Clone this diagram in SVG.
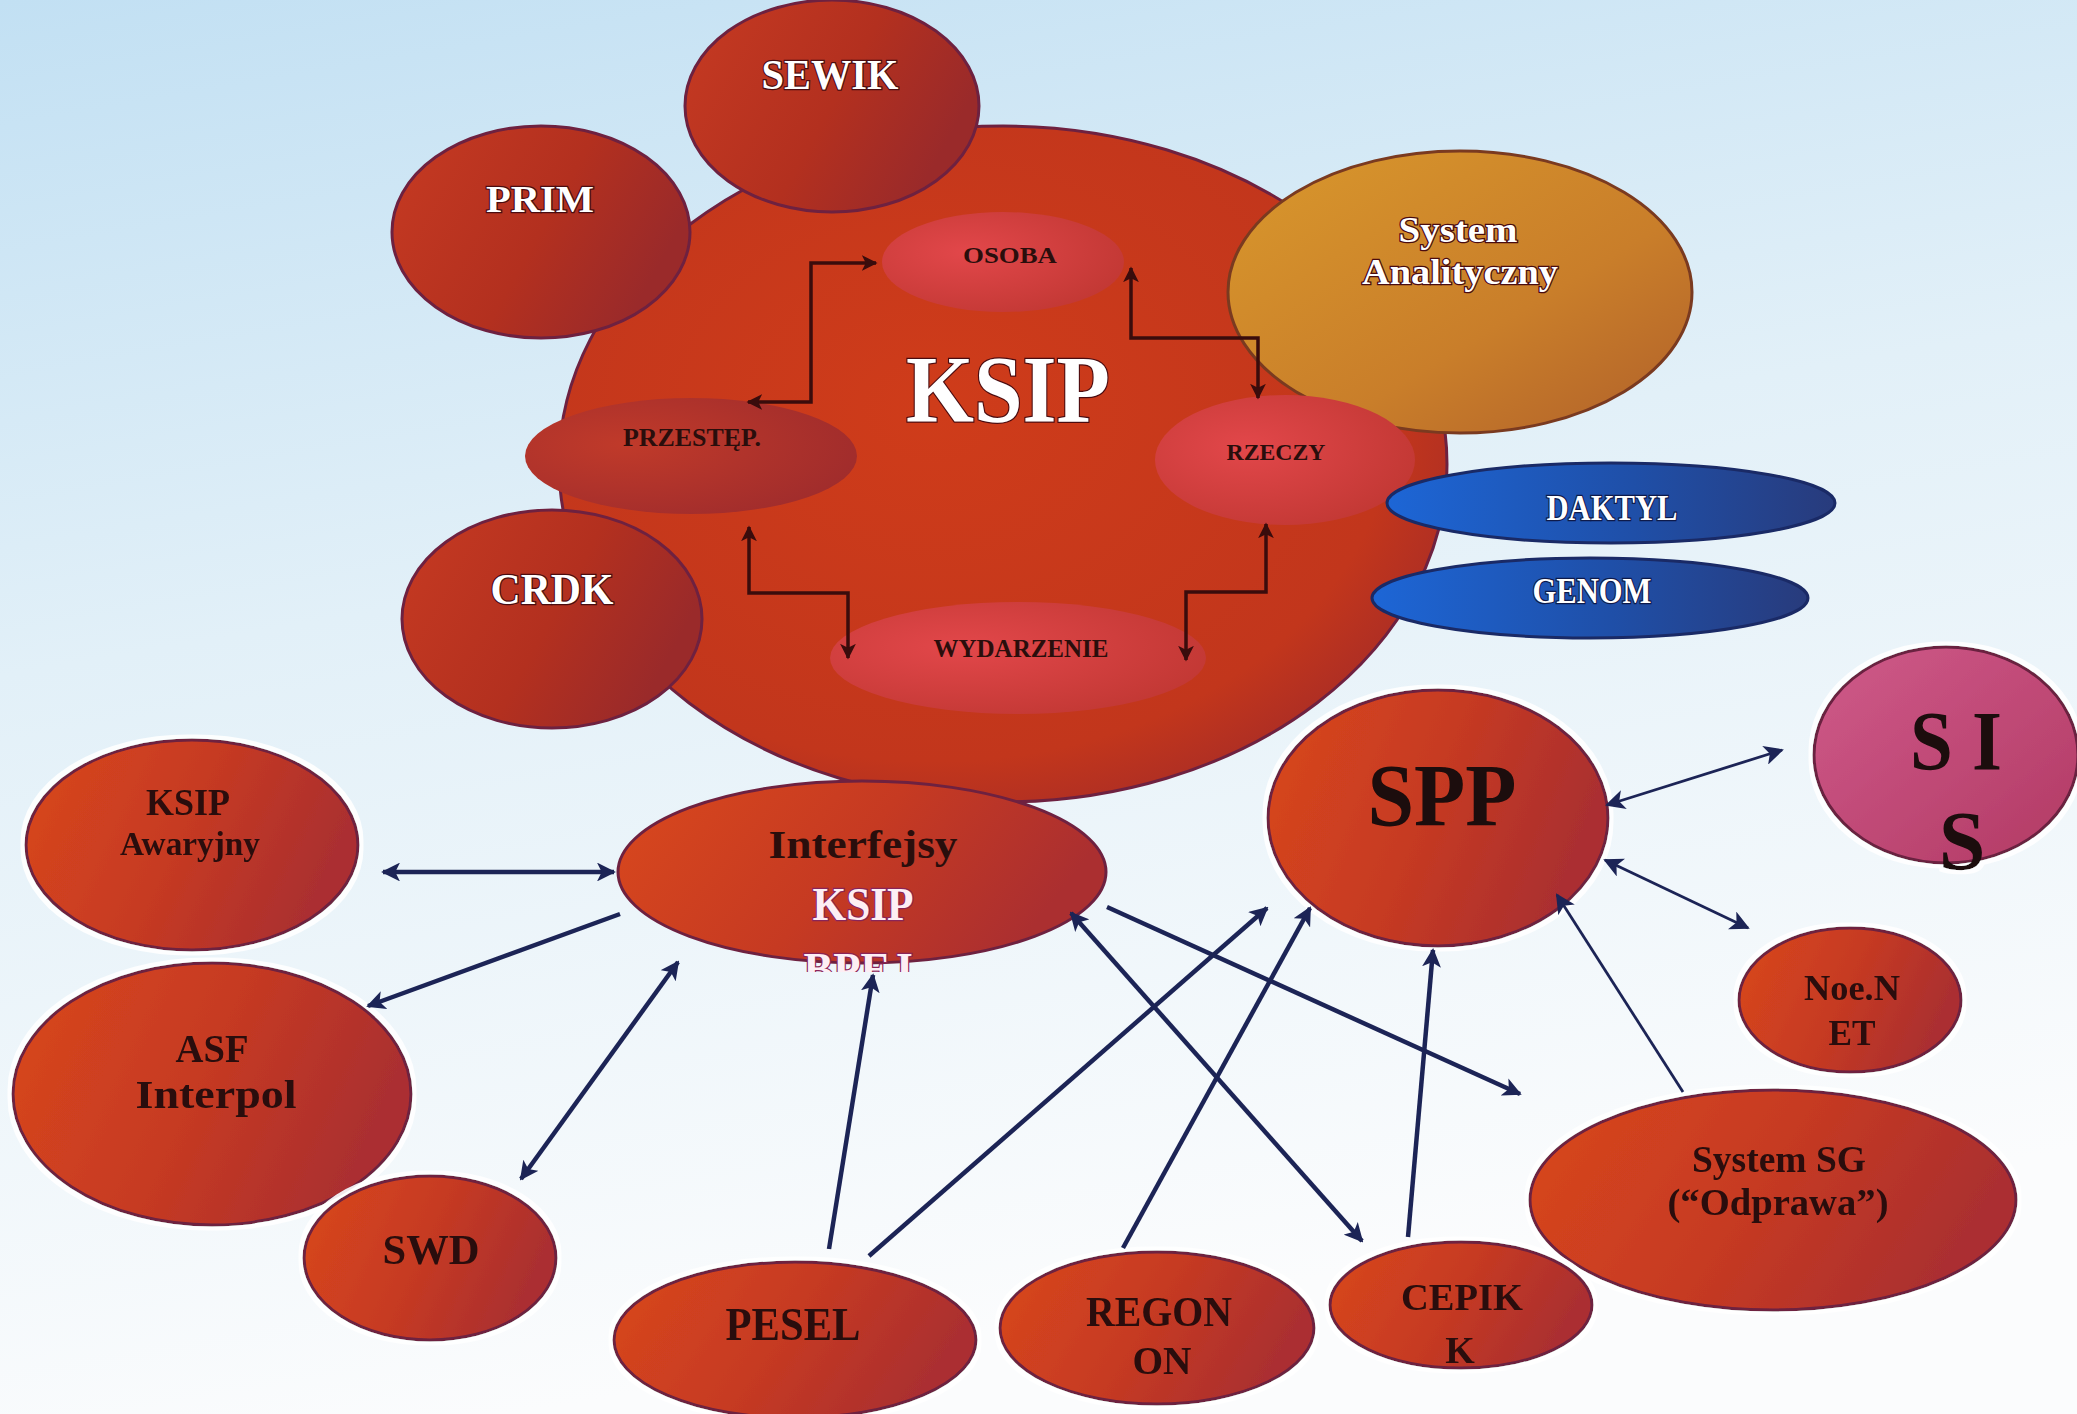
<svg xmlns="http://www.w3.org/2000/svg" width="2077" height="1414" viewBox="0 0 2077 1414">
<defs>
<linearGradient id="bg" x1="0" y1="0" x2="0.25" y2="1">
<stop offset="0" stop-color="#c2e0f3"/>
<stop offset="0.45" stop-color="#e2f0f8"/>
<stop offset="1" stop-color="#fbfcfd"/>
</linearGradient>
<linearGradient id="red" x1="0" y1="0" x2="1" y2="0.3">
<stop offset="0" stop-color="#d9481d"/>
<stop offset="0.55" stop-color="#c63a22"/>
<stop offset="1" stop-color="#ab2f30"/>
</linearGradient>
<linearGradient id="dred" x1="0" y1="0" x2="1" y2="0.4">
<stop offset="0" stop-color="#c63a22"/>
<stop offset="0.6" stop-color="#b3301f"/>
<stop offset="1" stop-color="#9a2a2a"/>
</linearGradient>
<radialGradient id="blob" cx="0.42" cy="0.42" r="0.65">
<stop offset="0" stop-color="#cf3c1a"/>
<stop offset="0.8" stop-color="#c2361c"/>
<stop offset="1" stop-color="#a82c26"/>
</radialGradient>
<radialGradient id="light" cx="0.35" cy="0.4" r="0.7">
<stop offset="0" stop-color="#e2474a"/>
<stop offset="1" stop-color="#c23834"/>
</radialGradient>
<radialGradient id="przes" cx="0.3" cy="0.4" r="0.75">
<stop offset="0" stop-color="#c03a2a"/>
<stop offset="1" stop-color="#a02c2c"/>
</radialGradient>
<linearGradient id="gold" x1="0" y1="0" x2="1" y2="1">
<stop offset="0" stop-color="#d9982c"/>
<stop offset="0.6" stop-color="#c97e2a"/>
<stop offset="1" stop-color="#b0602a"/>
</linearGradient>
<linearGradient id="blue" x1="0" y1="0" x2="1" y2="0">
<stop offset="0" stop-color="#1d66d6"/>
<stop offset="0.55" stop-color="#1f4fa8"/>
<stop offset="1" stop-color="#283b7c"/>
</linearGradient>
<linearGradient id="pink" x1="0" y1="0" x2="1" y2="1">
<stop offset="0" stop-color="#cf5a8a"/>
<stop offset="1" stop-color="#b23a64"/>
</linearGradient>
<filter id="halo" x="-10%" y="-10%" width="120%" height="120%">
<feMorphology in="SourceAlpha" operator="dilate" radius="4" result="d"/>
<feFlood flood-color="#ffffff" flood-opacity="0.9"/>
<feComposite in2="d" operator="in" result="w"/>
<feMerge><feMergeNode in="w"/><feMergeNode in="SourceGraphic"/></feMerge>
</filter>
<clipPath id="bpejClip"><rect x="780" y="930" width="160" height="42"/></clipPath>
<marker id="ah" viewBox="0 0 10 10" refX="9" refY="5" markerWidth="4.2" markerHeight="4.2" orient="auto-start-reverse" markerUnits="strokeWidth">
<path d="M0,0 L10,5 L0,10 L2.5,5 z" fill="#1c2456"/>
</marker>
<marker id="ahs" viewBox="0 0 10 10" refX="9" refY="5" markerWidth="7" markerHeight="7" orient="auto-start-reverse" markerUnits="strokeWidth">
<path d="M0,0 L10,5 L0,10 L2.5,5 z" fill="#1c2456"/>
</marker>
<marker id="ahk" viewBox="0 0 10 10" refX="9" refY="5" markerWidth="4.5" markerHeight="4.5" orient="auto-start-reverse" markerUnits="strokeWidth">
<path d="M0,0 L10,5 L0,10 L2.5,5 z" fill="#3a0c0c"/>
</marker>
<style>
text{font-family:"Liberation Serif","Times New Roman",serif;font-weight:bold;text-anchor:middle}
.w{fill:#ffffff;stroke:#4a0c10;stroke-width:2.5;paint-order:stroke}
.d{fill:#2a0e0c}
.ol{stroke:#6e2140;stroke-width:3}
.olb{stroke:#1a2a66;stroke-width:3}
.c{fill:none;stroke:#1c2456;stroke-width:4.5;marker-end:url(#ah)}
.ct{fill:none;stroke:#1c2456;stroke-width:2.8;marker-end:url(#ahs)}
.k{fill:none;stroke:#3a0c0c;stroke-width:3.5;marker-start:url(#ahk);marker-end:url(#ahk)}
</style>
</defs>
<rect width="2077" height="1414" fill="url(#bg)"/>

<g id="ksip">
<ellipse cx="1003" cy="464" rx="444" ry="338" fill="url(#blob)" class="ol"/>
</g>
<g id="sewik">
<ellipse cx="832" cy="106" rx="147" ry="106" fill="url(#dred)" class="ol"/>
<text x="830" y="89" font-size="42" textLength="137" lengthAdjust="spacingAndGlyphs" class="w">SEWIK</text>
</g>
<g id="prim">
<ellipse cx="541" cy="232" rx="149" ry="106" fill="url(#dred)" class="ol"/>
<text x="540" y="212" font-size="38" textLength="108" lengthAdjust="spacingAndGlyphs" class="w">PRIM</text>
</g>
<g id="crdk">
<ellipse cx="552" cy="619" rx="150" ry="109" fill="url(#dred)" class="ol"/>
<text x="552" y="604" font-size="44" textLength="123" lengthAdjust="spacingAndGlyphs" class="w">CRDK</text>
</g>
<g id="system-analityczny">
<ellipse cx="1460" cy="292" rx="232" ry="141" fill="url(#gold)" stroke="#7a3a20" stroke-width="3"/>
<text x="1458" y="242" font-size="36" textLength="119" lengthAdjust="spacingAndGlyphs" class="w">System</text>
<text x="1460" y="284" font-size="36" textLength="196" lengthAdjust="spacingAndGlyphs" class="w">Analityczny</text>
</g>
<g id="ksip-label">
<text x="1008" y="422" font-size="96" textLength="204" lengthAdjust="spacingAndGlyphs" class="w">KSIP</text>
</g>
<g id="osoba">
<ellipse cx="1003" cy="262" rx="121" ry="50" fill="url(#light)"/>
<text x="1010" y="263" font-size="24" textLength="94" lengthAdjust="spacingAndGlyphs" class="d">OSOBA</text>
</g>
<g id="przestep">
<ellipse cx="691" cy="456" rx="166" ry="58" fill="url(#przes)"/>
<text x="692" y="446" font-size="25" textLength="138" lengthAdjust="spacingAndGlyphs" class="d">PRZESTĘP.</text>
</g>
<g id="rzeczy">
<ellipse cx="1285" cy="460" rx="130" ry="65" fill="url(#light)"/>
<text x="1276" y="460" font-size="24" textLength="99" lengthAdjust="spacingAndGlyphs" class="d">RZECZY</text>
</g>
<g id="wydarzenie">
<ellipse cx="1018" cy="658" rx="188" ry="56" fill="url(#light)"/>
<text x="1021" y="657" font-size="25" textLength="175" lengthAdjust="spacingAndGlyphs" class="d">WYDARZENIE</text>
</g>
<g id="daktyl">
<ellipse cx="1611" cy="503" rx="224" ry="40" fill="url(#blue)" class="olb"/>
<text x="1612" y="520" font-size="36" textLength="131" lengthAdjust="spacingAndGlyphs" class="w" style="stroke:#0e1a4a">DAKTYL</text>
</g>
<g id="genom">
<ellipse cx="1590" cy="598" rx="218" ry="40" fill="url(#blue)" class="olb"/>
<text x="1592" y="603" font-size="36" textLength="119" lengthAdjust="spacingAndGlyphs" class="w" style="stroke:#0e1a4a">GENOM</text>
</g>

<g id="interfejsy">
<ellipse cx="862" cy="872" rx="244" ry="91" fill="url(#red)" class="ol"/>
<text x="863" y="858" font-size="40" textLength="189" lengthAdjust="spacingAndGlyphs" class="d">Interfejsy</text>
<text x="863" y="920" font-size="46" textLength="101" lengthAdjust="spacingAndGlyphs" style="fill:#fdeef4;stroke:#8a2458;stroke-width:2.5;paint-order:stroke">KSIP</text>
<text x="858" y="985" font-size="46" textLength="109" lengthAdjust="spacingAndGlyphs" clip-path="url(#bpejClip)" style="fill:#fdeef4;stroke:#8a2458;stroke-width:2.5;paint-order:stroke">BPEJ</text>
</g>
<g id="spp" filter="url(#halo)">
<ellipse cx="1438" cy="818" rx="170" ry="128" fill="url(#red)" class="ol"/>
<text x="1442" y="825" font-size="88" textLength="149" lengthAdjust="spacingAndGlyphs" fill="#1a0a08">SPP</text>
</g>
<g id="sis" filter="url(#halo)">
<ellipse cx="1946" cy="755" rx="132" ry="108" fill="url(#pink)" stroke="#6a2040" stroke-width="3"/>
<text x="1956" y="770" font-size="84" textLength="92" lengthAdjust="spacingAndGlyphs" fill="#1a0a0c">S I</text>
<text x="1962" y="870" font-size="84" fill="#1a0a0c">S</text>
</g>
<g id="ksip-awaryjny" filter="url(#halo)">
<ellipse cx="192" cy="845" rx="166" ry="105" fill="url(#red)" class="ol"/>
<text x="188" y="815" font-size="38" textLength="84" lengthAdjust="spacingAndGlyphs" class="d">KSIP</text>
<text x="190" y="855" font-size="34" textLength="140" lengthAdjust="spacingAndGlyphs" class="d">Awaryjny</text>
</g>
<g id="asf-interpol" filter="url(#halo)">
<ellipse cx="212" cy="1094" rx="199" ry="131" fill="url(#red)" class="ol"/>
<text x="212" y="1062" font-size="40" textLength="73" lengthAdjust="spacingAndGlyphs" class="d">ASF</text>
<text x="216" y="1108" font-size="40" textLength="161" lengthAdjust="spacingAndGlyphs" class="d">Interpol</text>
</g>
<g id="swd" filter="url(#halo)">
<ellipse cx="430" cy="1258" rx="126" ry="82" fill="url(#red)" class="ol"/>
<text x="431" y="1264" font-size="42" textLength="97" lengthAdjust="spacingAndGlyphs" class="d">SWD</text>
</g>
<g id="pesel" filter="url(#halo)">
<ellipse cx="795" cy="1340" rx="181" ry="78" fill="url(#red)" class="ol"/>
<text x="793" y="1340" font-size="46" textLength="135" lengthAdjust="spacingAndGlyphs" class="d">PESEL</text>
</g>
<g id="regon" filter="url(#halo)">
<ellipse cx="1157" cy="1328" rx="157" ry="76" fill="url(#red)" class="ol"/>
<text x="1159" y="1326" font-size="42" textLength="146" lengthAdjust="spacingAndGlyphs" class="d">REGON</text>
<text x="1162" y="1374" font-size="40" textLength="59" lengthAdjust="spacingAndGlyphs" class="d">ON</text>
</g>
<g id="system-sg" filter="url(#halo)">
<ellipse cx="1773" cy="1200" rx="243" ry="110" fill="url(#red)" class="ol"/>
<text x="1779" y="1172" font-size="38" textLength="174" lengthAdjust="spacingAndGlyphs" class="d">System SG</text>
<text x="1778" y="1215" font-size="38" textLength="221" lengthAdjust="spacingAndGlyphs" class="d">(“Odprawa”)</text>
</g>
<g id="cepik" filter="url(#halo)">
<ellipse cx="1461" cy="1305" rx="131" ry="63" fill="url(#red)" class="ol"/>
<text x="1462" y="1310" font-size="38" textLength="122" lengthAdjust="spacingAndGlyphs" class="d">CEPIK</text>
<text x="1460" y="1363" font-size="38" class="d">K</text>
</g>
<g id="noe-net" filter="url(#halo)">
<ellipse cx="1850" cy="1000" rx="111" ry="72" fill="url(#red)" class="ol"/>
<text x="1852" y="1000" font-size="36" textLength="96" lengthAdjust="spacingAndGlyphs" class="d">Noe.N</text>
<text x="1852" y="1045" font-size="36" textLength="47" lengthAdjust="spacingAndGlyphs" class="d">ET</text>
</g>

<g id="connectors">
<path class="k" d="M748 402 H811 V263 H876"/>
<path class="k" d="M1131 268 V338 H1258 V398"/>
<path class="k" d="M749 527 V593 H848 V658"/>
<path class="k" d="M1266 524 V592 H1186 V660"/>
<path class="c" style="marker-start:url(#ah)" d="M383 872 L614 872"/>
<path class="c" d="M620 914 L368 1006"/>
<path class="c" style="marker-start:url(#ah)" d="M678 962 L521 1179"/>
<path class="c" d="M829 1249 L873 975"/>
<path class="c" d="M869 1256 L1267 908"/>
<path class="c" d="M1123 1248 L1310 908"/>
<path class="c" style="marker-start:url(#ah)" d="M1071 913 L1362 1241"/>
<path class="c" d="M1107 907 L1520 1094"/>
<path class="c" d="M1408 1237 L1433 950"/>
<path class="ct" d="M1683 1092 L1557 895"/>
<path class="ct" style="marker-start:url(#ahs)" d="M1607 805 L1782 750"/>
<path class="ct" style="marker-start:url(#ahs)" d="M1605 860 L1748 928"/>
</g>
</svg>
